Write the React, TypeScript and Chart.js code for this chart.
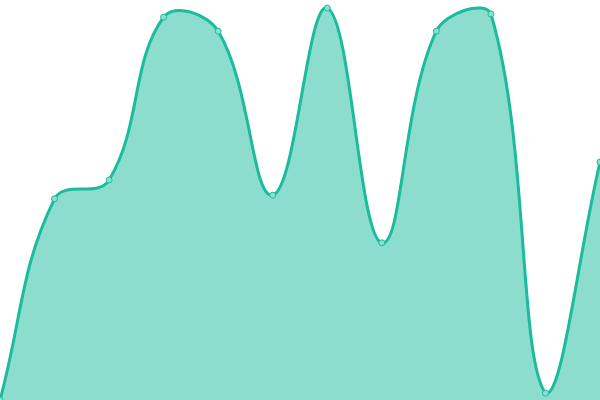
import React, { useEffect, useRef } from "react";
import { Chart, registerables } from "chart.js";

Chart.register(...registerables);

const labels = ["1", "2", "3", "4", "5", "6", "7", "8", "9", "10", "11", "12"];
const values = [0, 50.3, 55, 95.7, 92.2, 51.2, 98, 39.3, 92.2, 96.5, 1.7, 59.5];
const yMin = 0;
const yMax = 100;

export default function App() {
  const ref = useRef<HTMLCanvasElement | null>(null);
  useEffect(() => {
    document.body.style.margin = "0";
    if (!ref.current) return;
    const chart = new Chart(ref.current, {
      type: "line",
      data: {
        labels,
        datasets: [
          {
            data: values,
            borderColor: "#1abc9c",
            backgroundColor: "rgba(26,188,156,0.5)",
            borderWidth: 3,
            fill: "origin",
            tension: 0.4,
            pointRadius: 3,
            pointBorderWidth: 1,
            pointBackgroundColor: "#8de0d0",
            pointBorderColor: "#1abc9c",
          },
        ],
      },
      options: {
        responsive: false,
        animation: false,
        layout: { padding: 0, autoPadding: false },
        plugins: { legend: { display: false }, tooltip: { enabled: false } },
        scales: {
          x: { display: false },
          y: { display: false, min: yMin, max: yMax },
        },
      },
    });
    return () => chart.destroy();
  }, []);
  return <canvas ref={ref} width={600} height={400} style={{ display: "block" }} />;
}
